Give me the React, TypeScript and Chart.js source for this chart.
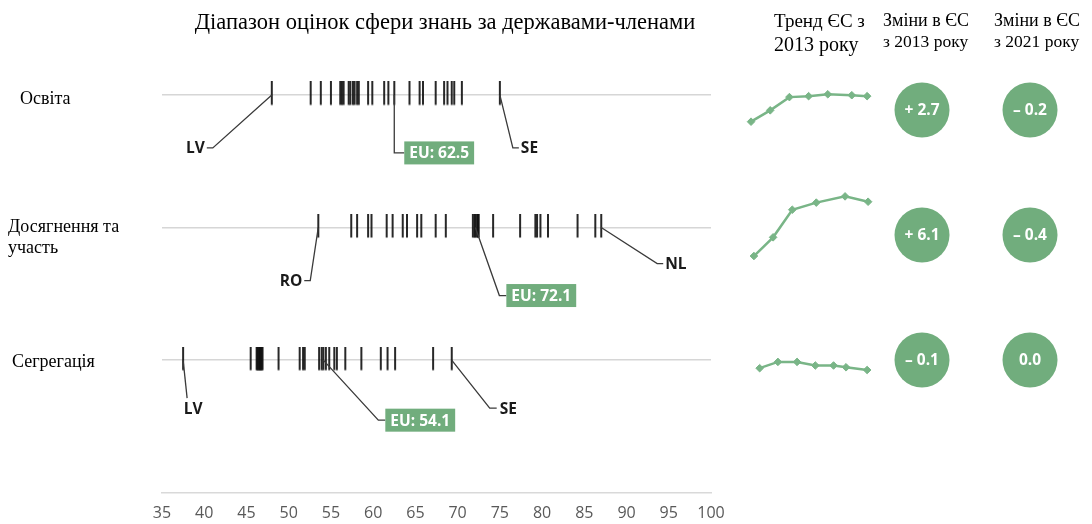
import React, { useEffect, useRef } from 'react';
import { Chart, registerables } from 'chart.js';

Chart.register(...registerables);

// ---------- data ----------
const rowNames = ['Освіта', 'Досягнення та участь', 'Сегрегація'];
const rowLevels = [3, 2, 1];
const axisTicks = [35, 40, 45, 50, 55, 60, 65, 70, 75, 80, 85, 90, 95, 100];

const educationScores = [48.0, 52.6, 53.8, 55.0, 56.1, 56.3, 56.5, 57.1, 57.3, 57.6, 57.8, 58.1, 58.3, 59.4, 59.9, 61.3, 61.8, 64.3, 65.5, 65.9, 67.4, 68.4, 68.8, 69.3, 69.6, 70.5, 75.0];
const attainmentScores = [53.5, 57.4, 58.1, 59.4, 59.8, 61.6, 62.3, 63.5, 64.0, 65.2, 65.7, 67.4, 68.6, 71.8, 72.0, 72.3, 72.4, 72.5, 74.2, 77.4, 79.2, 79.4, 79.8, 80.7, 84.2, 86.3, 87.0];
const segregationScores = [37.5, 45.5, 46.2, 46.3, 46.4, 46.5, 46.6, 46.7, 46.8, 46.9, 48.8, 51.3, 51.7, 51.9, 53.6, 53.9, 54.4, 54.8, 55.4, 55.7, 56.7, 58.6, 60.9, 61.7, 62.6, 67.1, 69.3];
const rowScores = [educationScores, attainmentScores, segregationScores];

const euScores = [62.5, 72.1, 54.1];
const minCodes = ['LV', 'RO', 'LV'];
const maxCodes = ['SE', 'NL', 'SE'];

const educationTrendX = [0, 2, 4, 6, 8, 10.5, 12.1];
const educationTrend = [59.8, 61.0, 62.4, 62.5, 62.7, 62.6, 62.5];
const attainmentTrendX = [0.3, 2.3, 4.3, 6.8, 9.8, 12.2];
const attainmentTrend = [66.0, 68.1, 71.2, 72.0, 72.7, 72.1];
const segregationTrendX = [0.9, 2.8, 4.8, 6.7, 8.6, 9.9, 12.1];
const segregationTrend = [54.3, 55.0, 55.0, 54.6, 54.6, 54.4, 54.1];

const change2013 = [2.7, 6.1, -0.1];
const change2021 = [-0.2, -0.4, 0.0];

// ---------- styles ----------
const GREEN = '#71ad7d';
const LINE_GREEN = '#79b587';
const SERIF = '"Liberation Serif", "DejaVu Serif", serif';
const SANS = '"Open Sans", "Noto Sans", sans-serif';

const calloutLayout: any[] = [
  {
    min: { path: [[-59, 53], [-65, 53]], text: [-67, 53], align: 'right' },
    eu: { path: [[0, 58], [10, 58]], box: [10, 58] },
    max: { path: [[13, 53], [19, 53]], text: [21, 53], align: 'left' },
  },
  {
    min: { path: [[-8, 53], [-14, 53]], text: [-16, 53], align: 'right' },
    eu: { path: [[24, 68], [31, 68]], box: [31, 68] },
    max: { path: [[56, 36], [62, 36]], text: [64, 36], align: 'left' },
  },
  {
    min: { path: [[4, 38]], text: [10, 48], align: 'center' },
    eu: { path: [[55, 60], [62, 60]], box: [62, 60] },
    max: { path: [[38, 48], [45, 48]], text: [48, 48], align: 'left' },
  },
];

// tick mark glyph: a vertical stroke reaching a little higher above the row line than below it
function makeTickGlyph() {
  const c = document.createElement('canvas');
  c.width = 4;
  c.height = 27;
  const g = c.getContext('2d') as CanvasRenderingContext2D;
  g.fillStyle = '#111111';
  g.fillRect(1.1, 0, 1.8, 23.5);
  return c;
}

const fmtChange = (v: number) =>
  v > 0 ? '+ ' + v.toFixed(1) : v < 0 ? '– ' + Math.abs(v).toFixed(1) : v.toFixed(1);

// ---------- plugins ----------
const calloutPlugin = {
  id: 'callouts',
  afterDatasetsDraw(chart: any) {
    const { ctx, scales } = chart;
    const xs = scales.x;
    const ys = scales.y;
    ctx.save();
    rowLevels.forEach((lvl, i) => {
      const yy = ys.getPixelForValue(lvl);
      const scores = rowScores[i];
      const items = [
        { kind: 'min', value: Math.min(...scores), label: minCodes[i] },
        { kind: 'eu', value: euScores[i], label: 'EU: ' + euScores[i].toFixed(1) },
        { kind: 'max', value: Math.max(...scores), label: maxCodes[i] },
      ];
      items.forEach((it) => {
        const lay = calloutLayout[i][it.kind];
        const ax = xs.getPixelForValue(it.value);
        ctx.beginPath();
        ctx.moveTo(ax, yy);
        lay.path.forEach(([dx, dy]: number[]) => ctx.lineTo(ax + dx, yy + dy));
        ctx.strokeStyle = '#3a3a3a';
        ctx.lineWidth = 1.3;
        ctx.stroke();
        ctx.font = `bold 15.5px ${SANS}`;
        ctx.textBaseline = 'middle';
        if (it.kind === 'eu') {
          const bx = ax + lay.box[0];
          const by = yy + lay.box[1];
          const w = ctx.measureText(it.label).width + 10;
          const h = 23;
          ctx.fillStyle = GREEN;
          ctx.fillRect(bx, by - h / 2, w, h);
          ctx.fillStyle = '#ffffff';
          ctx.textAlign = 'center';
          ctx.fillText(it.label, bx + w / 2, by + 1);
        } else {
          ctx.fillStyle = '#1a1a1a';
          ctx.textAlign = lay.align;
          ctx.fillText(it.label, ax + lay.text[0], yy + lay.text[1] + 1);
        }
      });
    });
    ctx.restore();
  },
};

const bubbleTextPlugin = {
  id: 'bubbleText',
  afterDatasetsDraw(chart: any) {
    const { ctx } = chart;
    const meta = chart.getDatasetMeta(0);
    const ds = chart.data.datasets[0];
    ctx.save();
    ctx.font = `bold 15.5px ${SANS}`;
    ctx.fillStyle = '#ffffff';
    ctx.textAlign = 'center';
    ctx.textBaseline = 'middle';
    meta.data.forEach((pt: any, j: number) => {
      ctx.fillText(fmtChange(ds.data[j].v), pt.x, pt.y + 1);
    });
    ctx.restore();
  },
};

// ---------- components ----------
function MainStrip() {
  const ref = useRef<HTMLCanvasElement>(null);
  useEffect(() => {
    const glyph = makeTickGlyph();
    const tickStyle = {
      pointStyle: glyph,
      pointRadius: 11.5,
      showLine: false,
    };
    const datasets: any[] = rowLevels.map((lvl, i) => ({
      data: rowScores[i].map((v) => ({ x: v, y: lvl })),
      ...tickStyle,
    }));
    datasets.push({
      data: rowLevels.map((lvl, i) => ({ x: euScores[i], y: lvl })),
      ...tickStyle,
    });
    const chart = new Chart(ref.current as HTMLCanvasElement, {
      type: 'scatter',
      data: { datasets },
      options: {
        animation: false,
        responsive: false,
        devicePixelRatio: 1,
        layout: { autoPadding: false, padding: { left: 162, right: 381, top: 28.6, bottom: 6 } },
        plugins: { legend: { display: false }, tooltip: { enabled: false }, title: { display: false } },
        scales: {
          x: {
            type: 'linear',
            min: axisTicks[0],
            max: axisTicks[axisTicks.length - 1],
            afterBuildTicks: (axis: any) => {
              axis.ticks = axisTicks.map((v) => ({ value: v }));
            },
            grid: { display: false, drawTicks: false },
            border: { display: true, color: '#d9d9d9', width: 1.5 },
            ticks: { color: '#595959', font: { family: SANS, size: 16 }, padding: 11, maxRotation: 0, autoSkip: false },
          },
          y: {
            type: 'linear',
            min: 0,
            max: 3.5,
            afterBuildTicks: (axis: any) => {
              axis.ticks = rowLevels.map((v) => ({ value: v }));
            },
            grid: { color: '#d6d6d6', lineWidth: 1.5, drawTicks: false },
            border: { display: false },
            ticks: { display: false },
          },
        },
      } as any,
      plugins: [calloutPlugin],
    });
    return () => chart.destroy();
  }, []);
  return (
    <canvas ref={ref} width={1092} height={540} style={{ position: 'absolute', left: 0, top: 0, width: 1092, height: 540 }} />
  );
}

function Spark({ xs, ys, top, height, yMin, yMax }: any) {
  const ref = useRef<HTMLCanvasElement>(null);
  useEffect(() => {
    const chart = new Chart(ref.current as HTMLCanvasElement, {
      type: 'line',
      data: {
        datasets: [
          {
            data: xs.map((x: number, j: number) => ({ x, y: ys[j] })),
            borderColor: LINE_GREEN,
            borderWidth: 2.5,
            pointStyle: 'rectRot',
            pointRadius: 3.8,
            pointBackgroundColor: LINE_GREEN,
            pointBorderColor: LINE_GREEN,
            pointBorderWidth: 1,
            tension: 0,
            clip: false,
          } as any,
        ],
      },
      options: {
        animation: false,
        responsive: false,
        devicePixelRatio: 1,
        layout: { autoPadding: false, padding: 0 },
        plugins: { legend: { display: false }, tooltip: { enabled: false } },
        scales: {
          x: { type: 'linear', display: false, min: -1.15, max: 13.44 },
          y: { type: 'linear', display: false, min: yMin, max: yMax },
        },
      } as any,
    });
    return () => chart.destroy();
  }, []);
  return (
    <canvas ref={ref} width={140} height={height} style={{ position: 'absolute', left: 740, top, width: 140, height }} />
  );
}

function Bubbles() {
  const ref = useRef<HTMLCanvasElement>(null);
  useEffect(() => {
    const pts: any[] = [];
    rowLevels.forEach((lvl, i) => {
      pts.push({ x: 0, y: lvl, v: change2013[i] });
      pts.push({ x: 1, y: lvl, v: change2021[i] });
    });
    const chart = new Chart(ref.current as HTMLCanvasElement, {
      type: 'scatter',
      data: {
        datasets: [
          {
            data: pts,
            pointRadius: 27.5,
            pointBackgroundColor: GREEN,
            pointBorderWidth: 0,
            clip: false,
          } as any,
        ],
      },
      options: {
        animation: false,
        responsive: false,
        devicePixelRatio: 1,
        layout: { autoPadding: false, padding: 0 },
        plugins: { legend: { display: false }, tooltip: { enabled: false } },
        scales: {
          x: { type: 'linear', display: false, min: -0.389, max: 1.574 },
          y: { type: 'linear', display: false, min: 0.52, max: 3.4 },
        },
      } as any,
      plugins: [bubbleTextPlugin],
    });
    return () => chart.destroy();
  }, []);
  return (
    <canvas ref={ref} width={212} height={360} style={{ position: 'absolute', left: 880, top: 60, width: 212, height: 360 }} />
  );
}

const txt = (left: number, centerY: number, size: number, extra: any = {}) => ({
  position: 'absolute' as const,
  left,
  top: centerY - Math.round(size * 1.2) / 2,
  fontSize: size,
  lineHeight: `${Math.round(size * 1.2)}px`,
  fontFamily: SERIF,
  color: '#000',
  whiteSpace: 'nowrap' as const,
  ...extra,
});

export default function App() {
  return (
    <div style={{ position: 'fixed', left: 0, top: 0, width: 1092, height: 524, background: '#fff', overflow: 'hidden' }}>
      <MainStrip />
      <Spark xs={educationTrendX} ys={educationTrend} top={80} height={50} yMin={58.92} yMax={64.21} />
      <Spark xs={attainmentTrendX} ys={attainmentTrend} top={180} height={90} yMin={64.43} yMax={74.54} />
      <Spark xs={segregationTrendX} ys={segregationTrend} top={345} height={40} yMin={52.43} yMax={56.88} />
      <Bubbles />

      <div style={txt(445, 21, 22.5, { transform: 'translateX(-50%)' })}>Діапазон оцінок сфери знань за державами-членами</div>

      <div style={txt(20, 98, 18)}>{rowNames[0]}</div>
      <div style={{ ...txt(8, 226, 18), lineHeight: '21px', top: 216, whiteSpace: 'normal', width: 130 }}>{rowNames[1]}</div>
      <div style={txt(12, 361, 18)}>{rowNames[2]}</div>

      <div style={txt(774, 20, 19)}>Тренд ЄС з</div>
      <div style={txt(774, 44, 20)}>2013 року</div>
      <div style={txt(883, 20, 18)}>Зміни в ЄС</div>
      <div style={txt(883, 41, 17.5)}>з 2013 року</div>
      <div style={txt(994, 20, 18)}>Зміни в ЄС</div>
      <div style={txt(994, 41, 17.5)}>з 2021 року</div>
    </div>
  );
}
